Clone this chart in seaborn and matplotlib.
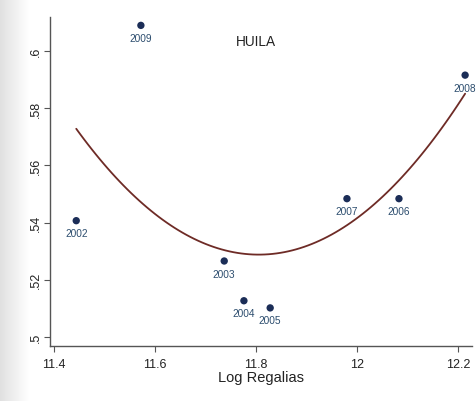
import numpy as np
import pandas as pd
import matplotlib
matplotlib.use("Agg")
import matplotlib.pyplot as plt
import seaborn as sns

# Huila: log royalties vs. indicator, one point per year
years = ["2002", "2003", "2004", "2005", "2006", "2007", "2008", "2009"]
log_regalias = [11.444, 11.737, 11.776, 11.828, 12.083, 11.980, 12.214, 11.572]
indicador = [0.5407, 0.5266, 0.5127, 0.5102, 0.5484, 0.5484, 0.5916, 0.6090]

x_ticks = [11.4, 11.6, 11.8, 12.0, 12.2]
x_tick_labels = ["11.4", "11.6", "11.8", "12", "12.2"]
y_ticks = [0.50, 0.52, 0.54, 0.56, 0.58, 0.60]
y_tick_labels = [".5", ".52", ".54", ".56", ".58", ".6"]

df = pd.DataFrame({"year": years, "x": log_regalias, "y": indicador})

sns.set_style("white")
plt.rcParams["font.family"] = ["Liberation Sans", "DejaVu Sans"]

fig = plt.figure(figsize=(4.76, 4.02), dpi=100)
fig.patch.set_facecolor("white")

# soft grey band along the left edge of the page
band = fig.add_axes([0, 0, 0.06, 1], zorder=-5)
grad = np.linspace(0.88, 1.0, 64)[None, :]
band.imshow(np.dstack([grad, grad, grad]), aspect="auto", extent=[0, 1, 0, 1])
band.set_axis_off()

ax = fig.add_axes([0.105, 0.137, 0.887, 0.818])
ax.set_facecolor("white")

# quadratic fit across the observed range
sns.regplot(data=df, x="x", y="y", order=2, ci=None, scatter=False, ax=ax,
            line_kws={"color": "#6e2b26", "lw": 1.3})
sns.scatterplot(data=df, x="x", y="y", ax=ax, color="#1b2d57", s=28,
                edgecolor="none", zorder=3)

for _, r in df.iterrows():
    ax.annotate(r["year"], (r["x"], r["y"]), xytext=(0, -9),
                textcoords="offset points", ha="center", va="center",
                fontsize=7.3, color="#2c4d6e")

ax.text(11.8, 0.6035, "HUILA", ha="center", va="center", fontsize=9.8,
        color="#222222")

ax.set_xlim(11.392, 12.228)
ax.set_ylim(0.4969, 0.6119)
ax.set_xticks(x_ticks)
ax.set_xticklabels(x_tick_labels)
ax.set_yticks(y_ticks)
ax.set_yticklabels(y_tick_labels, rotation=90, va="center")
ax.tick_params(axis="both", which="major", direction="out", length=4,
               width=0.8, color="#555555", labelsize=9, labelcolor="#222222",
               bottom=True, left=True)
ax.tick_params(axis="y", pad=1.5)
ax.tick_params(axis="x", pad=4.5)
ax.set_xlabel("Log Regalias", fontsize=10.5, color="#222222", labelpad=0)
ax.set_ylabel("")

for side in ("top", "right"):
    ax.spines[side].set_visible(False)
for side in ("left", "bottom"):
    ax.spines[side].set_color("#555555")
    ax.spines[side].set_linewidth(1.0)

fig.savefig("out.png", dpi=100, facecolor=fig.get_facecolor())
